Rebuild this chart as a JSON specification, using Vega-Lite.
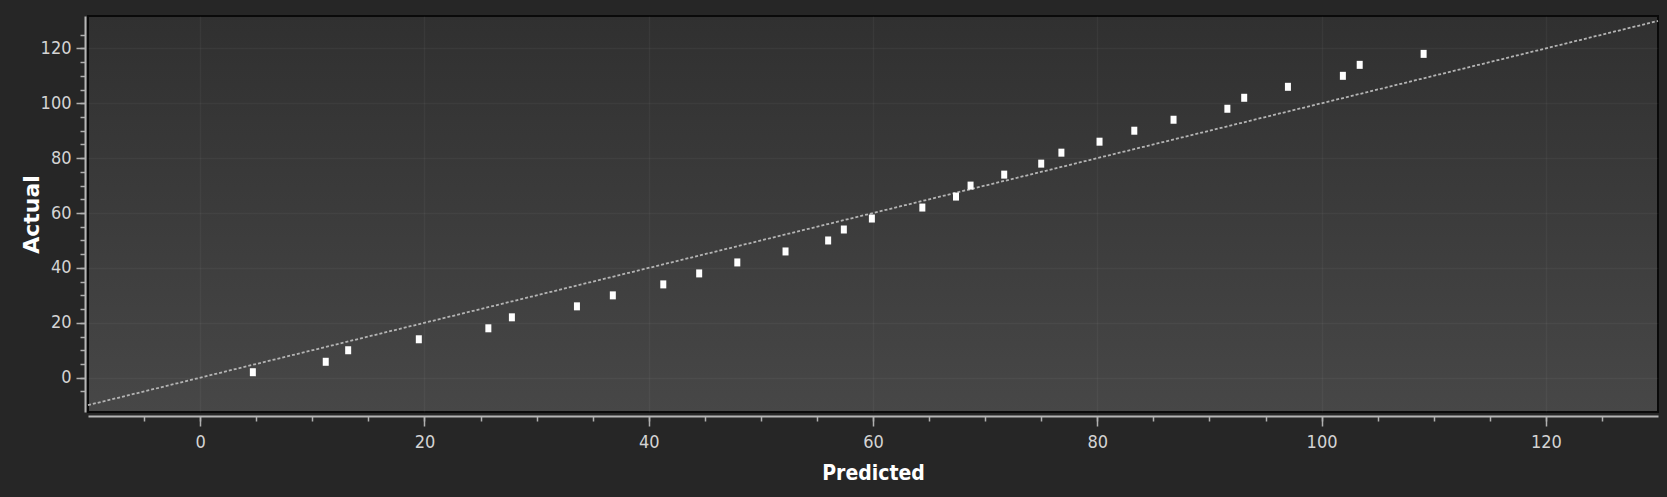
{
  "$schema": "https://vega.github.io/schema/vega-lite/v6.json",
  "width": 1570,
  "height": 396,
  "autosize": {"type": "none"},
  "padding": {"left": 88, "top": 16, "right": 9, "bottom": 85},
  "background": "#262626",
  "datasets": {
    "points": [
      {"predicted": 4.7, "actual": 2},
      {"predicted": 11.2, "actual": 5.8},
      {"predicted": 13.2, "actual": 10},
      {"predicted": 19.5, "actual": 14},
      {"predicted": 25.7, "actual": 18},
      {"predicted": 27.8, "actual": 22},
      {"predicted": 33.6, "actual": 26},
      {"predicted": 36.8, "actual": 30},
      {"predicted": 41.3, "actual": 34},
      {"predicted": 44.5, "actual": 38},
      {"predicted": 47.9, "actual": 42},
      {"predicted": 52.2, "actual": 46},
      {"predicted": 56.0, "actual": 50},
      {"predicted": 57.4, "actual": 54},
      {"predicted": 59.9, "actual": 58},
      {"predicted": 64.4, "actual": 62},
      {"predicted": 67.4, "actual": 66},
      {"predicted": 68.7, "actual": 70},
      {"predicted": 71.7, "actual": 74},
      {"predicted": 75.0, "actual": 78},
      {"predicted": 76.8, "actual": 82},
      {"predicted": 80.2, "actual": 86},
      {"predicted": 83.3, "actual": 90},
      {"predicted": 86.8, "actual": 94},
      {"predicted": 91.6, "actual": 98},
      {"predicted": 93.1, "actual": 102},
      {"predicted": 97.0, "actual": 106},
      {"predicted": 101.9, "actual": 110},
      {"predicted": 103.4, "actual": 114},
      {"predicted": 109.1, "actual": 118}
    ],
    "diag": [
      {"predicted": -10, "actual": -10},
      {"predicted": 130, "actual": 130}
    ]
  },
  "config": {
    "view": {
      "fill": {
        "gradient": "linear", "x1": 0, "y1": 0, "x2": 0, "y2": 1,
        "stops": [{"offset": 0, "color": "#303030"}, {"offset": 1, "color": "#474747"}]
      },
      "stroke": "#0a0a0a",
      "strokeWidth": 2
    }
  },
  "layer": [
    {
      "data": {"name": "diag"},
      "mark": {"type": "line", "color": "#b4b4b4", "strokeWidth": 1.8, "strokeDash": [3, 2]},
      "encoding": {
        "x": {
          "field": "predicted", "type": "quantitative",
          "scale": {"domain": [-10, 130], "nice": false, "zero": false},
          "axis": {
            "title": "Predicted", "orient": "bottom", "offset": 4,
            "values": [0, 20, 40, 60, 80, 100, 120],
            "tickSize": 10, "tickWidth": 1.5, "tickColor": "#b0b0b0",
            "domainColor": "#b5b5b5", "domainWidth": 2,
            "labelFont": "DejaVu Sans Condensed, Liberation Sans Narrow, DejaVu Sans",
            "labelFontSize": 18, "labelColor": "#d4d4d4", "labelPadding": 7,
            "grid": true, "gridColor": "#ffffff", "gridOpacity": 0.04, "gridWidth": 1.5,
            "titleFont": "DejaVu Sans Condensed, DejaVu Sans", "titleFontWeight": "bold",
            "titleFontSize": 21, "titleColor": "#ffffff",
            "titleBaseline": "alphabetic", "titleY": 63
          }
        },
        "y": {
          "field": "actual", "type": "quantitative",
          "scale": {"domain": [-12.5, 131.8], "nice": false, "zero": false},
          "axis": {
            "title": "Actual", "orient": "left", "offset": 3,
            "values": [0, 20, 40, 60, 80, 100, 120],
            "tickSize": 9, "tickWidth": 1.5, "tickColor": "#b0b0b0",
            "domainColor": "#b5b5b5", "domainWidth": 2,
            "labelFont": "DejaVu Sans Condensed, Liberation Sans Narrow, DejaVu Sans",
            "labelFontSize": 18, "labelColor": "#d4d4d4", "labelPadding": 5,
            "grid": true, "gridColor": "#ffffff", "gridOpacity": 0.04, "gridWidth": 1.5,
            "titleFont": "DejaVu Sans", "titleFontWeight": "bold",
            "titleFontSize": 22, "titleColor": "#ffffff",
            "titleBaseline": "alphabetic", "titleX": -47, "titleY": 198, "titleAngle": -90
          }
        }
      }
    },
    {
      "data": {"name": "points"},
      "mark": {"type": "point", "shape": "M-0.75,-1H0.75V1H-0.75Z", "filled": true, "size": 64, "color": "#ffffff", "opacity": 1},
      "encoding": {
        "x": {
          "field": "predicted", "type": "quantitative",
          "axis": {
            "title": null, "orient": "bottom", "offset": 4, "labels": false, "domain": false, "grid": false,
            "values": [-5, 0, 5, 10, 15, 20, 25, 30, 35, 40, 45, 50, 55, 60, 65, 70, 75, 80, 85, 90, 95, 100, 105, 110, 115, 120, 125],
            "tickSize": 5, "tickWidth": 1.5, "tickColor": "#b0b0b0"
          }
        },
        "y": {
          "field": "actual", "type": "quantitative",
          "axis": {
            "title": null, "orient": "left", "offset": 3, "labels": false, "domain": false, "grid": false,
            "values": [-5, 0, 5, 10, 15, 20, 25, 30, 35, 40, 45, 50, 55, 60, 65, 70, 75, 80, 85, 90, 95, 100, 105, 110, 115, 120, 125],
            "tickSize": 5, "tickWidth": 1.5, "tickColor": "#b0b0b0"
          }
        }
      }
    }
  ],
  "resolve": {"axis": {"x": "independent", "y": "independent"}}
}
